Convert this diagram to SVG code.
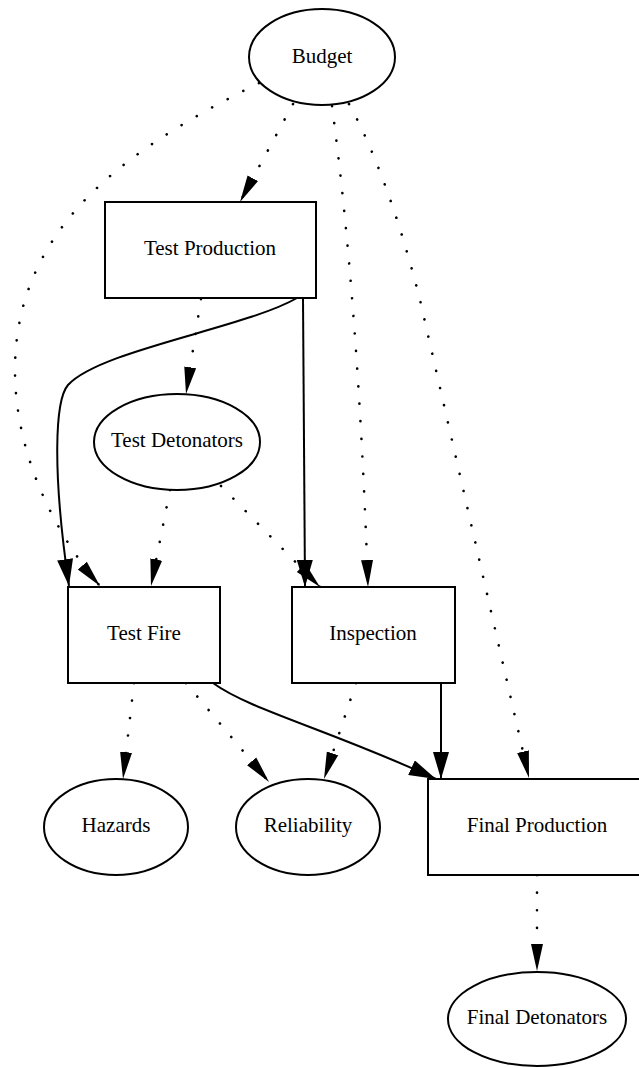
<svg xmlns="http://www.w3.org/2000/svg" width="639" height="1068" viewBox="0 0 639 1068">
<defs>
<style>
.node{fill:#fff;stroke:#000;stroke-width:2}
.lbl{font-family:"Liberation Serif","Times New Roman",serif;font-size:21px;fill:#000;text-anchor:middle}
.e{fill:none;stroke:#000;stroke-width:2}
.d{fill:none;stroke:#000;stroke-width:2.6;stroke-dasharray:0.1 17.5;stroke-linecap:round}
</style>
<marker id="arr" markerUnits="userSpaceOnUse" viewBox="0 0 27 16" markerWidth="27" markerHeight="16" refX="27" refY="8" orient="auto">
<path d="M0,0 L27,8 L0,16 Z" fill="#000"/>
</marker>
<marker id="arrd" markerUnits="userSpaceOnUse" viewBox="0 0 27 14" markerWidth="27" markerHeight="14" refX="27" refY="7" orient="auto">
<path d="M0,1 L27,7 L0,13 Z" fill="#000"/>
</marker>
</defs>
<rect width="639" height="1068" fill="#fff"/>
<g id="edges">
<path class="d" marker-end="url(#arrd)" d="M293,104 L240,202"/>
<path class="d" marker-end="url(#arrd)" d="M259,83 C139,143 15,220 15,370 C15,460 60,540 100,586"/>
<path class="d" marker-end="url(#arrd)" d="M332,106 Q358,300 368,587"/>
<path class="d" marker-end="url(#arrd)" d="M349,104 C380,160 405,240 420,300 L529,778"/>
<path class="d" marker-end="url(#arrd)" d="M201,299 L186,394"/>
<path class="e" marker-end="url(#arr)" d="M297,298 C245,328 100,350 68,385 C55,400 52,470 69,586"/>
<path class="e" marker-end="url(#arr)" d="M303,298 L305,587"/>
<path class="d" marker-end="url(#arrd)" d="M170,490 L151,586"/>
<path class="d" marker-end="url(#arrd)" d="M221,486 L320,587"/>
<path class="d" marker-end="url(#arrd)" d="M134,683 L123,779"/>
<path class="d" marker-end="url(#arrd)" d="M186,683 L269,782"/>
<path class="d" marker-end="url(#arrd)" d="M356,683 L324,779"/>
<path class="e" marker-end="url(#arr)" d="M213,683 C250,710 330,730 436,779"/>
<path class="e" marker-end="url(#arr)" d="M441,683 L441,779"/>
<path class="d" marker-end="url(#arrd)" d="M537,875 L537,971"/>
</g>
<g id="budget"><ellipse class="node" cx="322" cy="57" rx="73" ry="48"/><text class="lbl" x="322" y="63">Budget</text></g>
<g id="test-production"><rect class="node" x="105" y="202" width="211" height="96"/><text class="lbl" x="210" y="255">Test Production</text></g>
<g id="test-detonators"><ellipse class="node" cx="177" cy="442" rx="83" ry="48"/><text class="lbl" x="177" y="447">Test Detonators</text></g>
<g id="test-fire"><rect class="node" x="68" y="587" width="152" height="96"/><text class="lbl" x="144" y="640">Test Fire</text></g>
<g id="inspection"><rect class="node" x="292" y="587" width="163" height="96"/><text class="lbl" x="373" y="640">Inspection</text></g>
<g id="hazards"><ellipse class="node" cx="116" cy="827" rx="72" ry="48"/><text class="lbl" x="116" y="832">Hazards</text></g>
<g id="reliability"><ellipse class="node" cx="308" cy="827" rx="72" ry="48"/><text class="lbl" x="308" y="832">Reliability</text></g>
<g id="final-production"><rect class="node" x="428" y="779" width="218" height="96"/><text class="lbl" x="537" y="832">Final Production</text></g>
<g id="final-detonators"><ellipse class="node" cx="537" cy="1019" rx="89" ry="47"/><text class="lbl" x="537" y="1024">Final Detonators</text></g>
</svg>
